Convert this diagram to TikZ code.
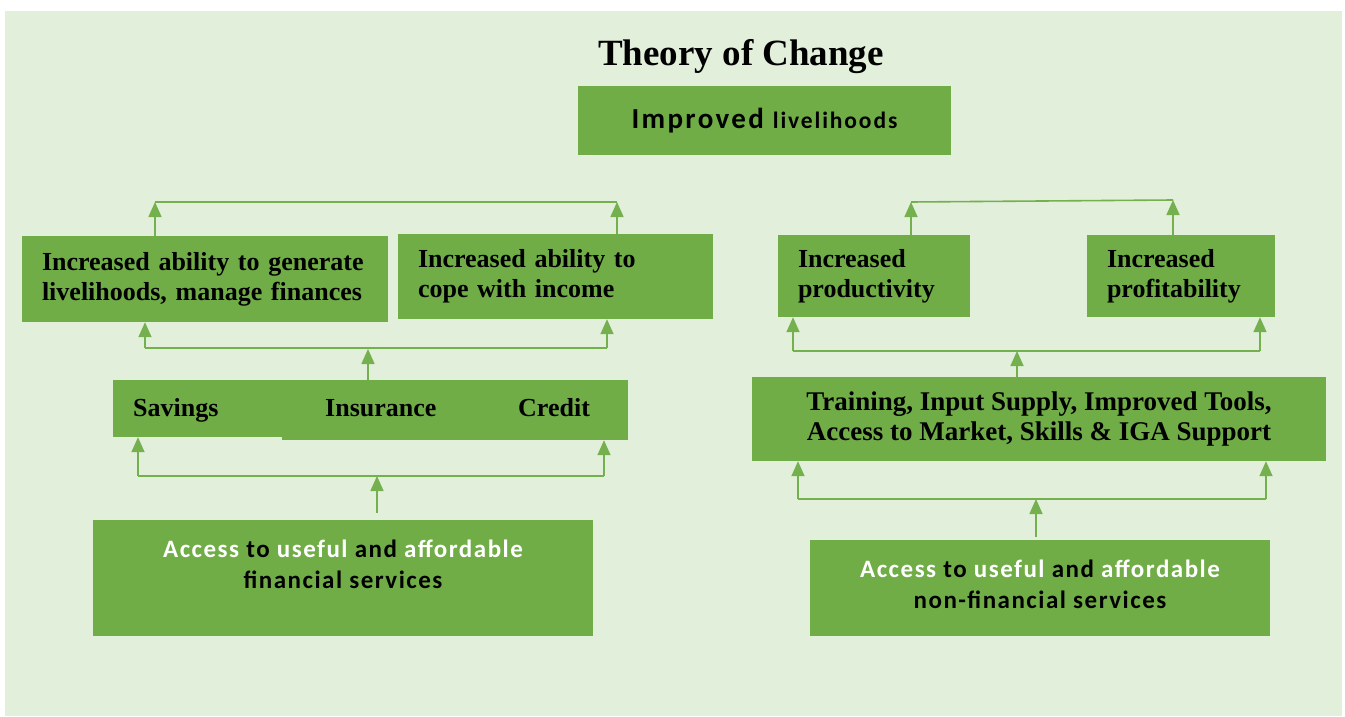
\documentclass[tikz,border=0pt]{standalone}
\usepackage{fontspec}
\setmainfont{Liberation Serif}
\newfontfamily\calfont[LetterSpace=6]{Carlito}
\newfontfamily\calwide[LetterSpace=8]{Carlito}
\usetikzlibrary{arrows.meta}
\definecolor{bg}{HTML}{E2EFDA}
\definecolor{gbox}{HTML}{70AD47}
\definecolor{gline}{HTML}{74B04E}
\begin{document}
\begin{tikzpicture}[x=1pt,y=-1pt,
 box/.style={fill=gbox, draw=none, inner sep=0pt},
 sbox/.style={box, font=\bfseries\fontsize{26}{30}\selectfont, align=left, inner xsep=20pt, inner ysep=0pt},
 stext/.style={font=\bfseries\fontsize{26}{30}\selectfont, inner sep=0pt},
 ctext/.style={font=\calfont\bfseries\fontsize{25}{31}\selectfont, align=center, inner sep=0pt},
 conn/.style={draw=gline, line width=1.6pt},
 arr/.style={conn, -{Triangle[length=15pt,width=13pt]}}]
\useasboundingbox (0,0) rectangle (1345,717);
\fill[white] (0,0) rectangle (1345,717);
\fill[bg] (5,11) rectangle (1342,716);

% title
\node[inner sep=0pt] (title) at (741,57) {\bfseries\fontsize{37}{42}\selectfont Theory of Change};

% top box
\node[box, minimum width=373pt, minimum height=69pt] (top) at (764.5,120.5)
  {\calwide\bfseries\fontsize{29}{30}\selectfont Improved\hspace{9pt}{\fontsize{23.5}{26}\selectfont livelihoods}};

% left outcome boxes
\node[sbox, text width=326pt, minimum height=86pt] (L1) at (205,279)
  {Increased ability to generate\\livelihoods, manage finances};
\node[sbox, text width=275pt, minimum height=85pt] (L2) at (555.5,276.5)
  {Increased ability to\\cope with income};

% right outcome boxes
\node[sbox, text width=152pt, minimum height=82pt] (R1) at (874,276)
  {Increased\\productivity};
\node[sbox, text width=148pt, minimum height=82pt] (R2) at (1181,276)
  {Increased\\profitability};

% savings / insurance / credit
\node[box, minimum width=169pt, minimum height=57pt] (sav) at (197.5,408.5) {};
\node[box, minimum width=346pt, minimum height=60pt] (ins) at (455,410) {};
\node[stext, anchor=base west] (tsav) at (133,416) {Savings};
\node[stext, anchor=base west] (tins) at (325,416) {Insurance};
\node[stext, anchor=base west] (tcre) at (518,416) {Credit};

% training box
\node[box, minimum width=574pt, minimum height=84pt, font=\bfseries\fontsize{27}{30}\selectfont, align=center] (train) at (1039,419)
  {Training, Input Supply, Improved Tools,\\Access to Market, Skills \& IGA Support};

% bottom boxes
\node[box, minimum width=500pt, minimum height=116pt] (fin) at (343,578) {};
\node[ctext] (tfin) at (343,564)
  {\textcolor{white}{Access} to \textcolor{white}{useful} and \textcolor{white}{affordable}\\financial services};
\node[box, minimum width=460pt, minimum height=96pt] (nfin) at (1040,588) {};
\node[ctext] (tnfin) at (1040,584)
  {\textcolor{white}{Access} to \textcolor{white}{useful} and \textcolor{white}{affordable}\\non-financial services};

% ---- left connectors
\coordinate (a1) at (155,202);
\coordinate (a2) at (617,202);
\draw[conn] (a1) -- (a2);
\draw[arr] (L1.north -| a1) -- (a1);
\draw[arr] (L2.north -| a2) -- (a2);

\coordinate (b1) at (145,348);
\coordinate (b2) at (607,348);
\coordinate (bc) at (368,349);
\draw[conn] (b1) -- (b2);
\draw[arr] (b1) -- (L1.south -| b1);
\draw[arr] (b2) -- (L2.south -| b2);
\draw[arr] (ins.north -| bc) -- (bc);

\coordinate (c1) at (138,476);
\coordinate (c2) at (604,476);
\coordinate (cc) at (377,476);
\draw[conn] (c1) -- (c2);
\draw[arr] (c1) -- (sav.south -| c1);
\draw[arr] (c2) -- (ins.south -| c2);
\draw[arr, shorten <=7pt] (fin.north -| cc) -- (cc);

% ---- right connectors
\coordinate (d1) at (911,202);
\coordinate (d2) at (1173,200);
\draw[conn] (d1) -- (d2);
\draw[arr] (R1.north -| d1) -- (d1);
\draw[arr] (R2.north -| d2) -- (d2);

\coordinate (e1) at (793,351);
\coordinate (e2) at (1260,351);
\coordinate (ec) at (1017,351);
\draw[conn] (e1) -- (e2);
\draw[arr] (e1) -- (R1.south -| e1);
\draw[arr] (e2) -- (R2.south -| e2);
\draw[arr] (train.north -| ec) -- (ec);

\coordinate (f1) at (798,499);
\coordinate (f2) at (1266,499);
\coordinate (fc) at (1036,499);
\draw[conn] (f1) -- (f2);
\draw[arr] (f1) -- (train.south -| f1);
\draw[arr] (f2) -- (train.south -| f2);
\draw[arr, shorten <=3pt] (nfin.north -| fc) -- (fc);
\end{tikzpicture}
\end{document}
